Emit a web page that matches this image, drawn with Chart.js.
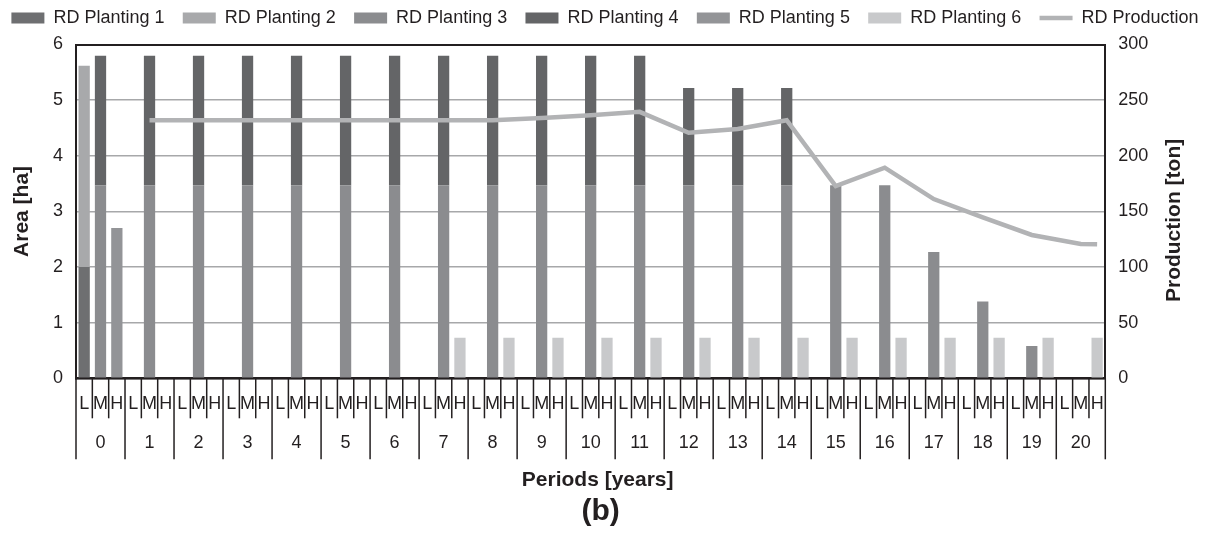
<!DOCTYPE html>
<html>
<head>
<meta charset="utf-8">
<title>RD Planting and Production</title>
<script src="https://cdn.jsdelivr.net/npm/chart.js@4.4.1/dist/chart.umd.min.js"></script>
<style>
  html, body { margin: 0; padding: 0; background: #ffffff; }
  #wrap { width: 1210px; height: 536px; }
</style>
</head>
<body>
<div id="wrap"><canvas id="chart" width="1210" height="536"></canvas></div>
<script>
// Periods and the three levels shown under each period
const periods = ['0','1','2','3','4','5','6','7','8','9','10','11','12','13','14','15','16','17','18','19','20'];
const levels = ['L', 'M', 'H'];

// Area [ha] per period, for the level slot each planting occupies
const planting1L = [2.0, null, null, null, null, null, null, null, null, null, null, null, null, null, null, null, null, null, null, null, null];
const planting2L = [3.62, null, null, null, null, null, null, null, null, null, null, null, null, null, null, null, null, null, null, null, null];
const planting3M = [3.47, 3.47, 3.47, 3.47, 3.47, 3.47, 3.47, 3.47, 3.47, 3.47, 3.47, 3.47, 3.47, 3.47, 3.47, 3.47, 3.47, 2.27, 1.38, 0.58, null];
const planting4M = [2.33, 2.33, 2.33, 2.33, 2.33, 2.33, 2.33, 2.33, 2.33, 2.33, 2.33, 2.33, 1.75, 1.75, 1.75, null, null, null, null, null, null];
const planting5H = [2.7, null, null, null, null, null, null, null, null, null, null, null, null, null, null, null, null, null, null, null, null];
const planting6H = [null, null, null, null, null, null, null, 0.73, 0.73, 0.73, 0.73, 0.73, 0.73, 0.73, 0.73, 0.73, 0.73, 0.73, 0.73, 0.73, 0.73];

// Production [ton]
const productionM = [null, 232, 232, 232, 232, 232, 232, 232, 232, 234, 236.5, 239.5, 220.7, 224, 232, 172.8, 189.3, 161.1, 144.7, 128.8, 120.7];
const productionH = [null, null, null, null, null, null, null, null, null, null, null, null, null, null, null, null, null, null, null, null, 120.4];

// Axis tick values
const areaTicks = [0, 1, 2, 3, 4, 5, 6];
const productionTicks = [0, 50, 100, 150, 200, 250, 300];

// One category per (period, level) pair
const categoryLabels = [];
periods.forEach(() => levels.forEach(l => categoryLabels.push(l)));

// Spread a per-period series into its level slot
function slot(values, level) {
  const out = new Array(categoryLabels.length).fill(null);
  const k = levels.indexOf(level);
  values.forEach((v, p) => { out[p * 3 + k] = v; });
  return out;
}
function merge(a, b) { return a.map((v, i) => v !== null ? v : b[i]); }

const FONT = '"Liberation Sans", Arial, Helvetica, sans-serif';
const INK = '#231f20';
Chart.defaults.font.family = FONT;
Chart.defaults.color = INK;

// Side margins are negative so the long legend row keeps to one line;
// the axis widths below add them back.
const SIDE = 20;

function barSet(label, data, color) {
  return { type: 'bar', label, data, backgroundColor: color, borderWidth: 0,
           yAxisID: 'y', stack: 'area', order: 1,
           categoryPercentage: 1.0, barPercentage: 0.69 };
}

const datasets = [
  barSet('RD Planting 1', slot(planting1L, 'L'), '#6e6f71'),
  barSet('RD Planting 2', slot(planting2L, 'L'), '#a8a9ab'),
  barSet('RD Planting 3', slot(planting3M, 'M'), '#8b8c8f'),
  barSet('RD Planting 4', slot(planting4M, 'M'), '#646567'),
  barSet('RD Planting 5', slot(planting5H, 'H'), '#939497'),
  barSet('RD Planting 6', slot(planting6H, 'H'), '#c8c9cb'),
  { type: 'line', label: 'RD Production', data: merge(slot(productionM, 'M'), slot(productionH, 'H')),
    borderColor: '#b2b3b5', backgroundColor: '#b2b3b5', borderWidth: 4.5,
    pointRadius: 0, pointHoverRadius: 0, spanGaps: true, tension: 0,
    yAxisID: 'y1', order: 0 }
];

// Multi-level category axis, axis titles and panel label
const decorations = {
  id: 'decorations',
  afterLayout(chart) {
    // lift the legend row a little above the plot
    chart.legend.top -= 7.5;
    chart.legend.bottom -= 7.5;
  },
  afterDraw(chart) {
    const { ctx, chartArea, scales } = chart;
    const x = scales.x;
    const n = categoryLabels.length;
    const half = (x.getPixelForValue(1) - x.getPixelForValue(0)) / 2;
    const base = chartArea.bottom;
    ctx.save();
    ctx.strokeStyle = INK;
    ctx.lineWidth = 1.5;
    for (let i = 0; i <= n; i++) {
      const px = i < n ? x.getPixelForValue(i) - half : x.getPixelForValue(n - 1) + half;
      const len = i % 3 === 0 ? 81 : 40;
      ctx.beginPath();
      ctx.moveTo(px, base);
      ctx.lineTo(px, base + len);
      ctx.stroke();
    }
    ctx.fillStyle = INK;
    ctx.textAlign = 'center';
    ctx.textBaseline = 'middle';
    ctx.font = '18px ' + FONT;
    periods.forEach((p, k) => ctx.fillText(p, x.getPixelForValue(k * 3 + 1), base + 65));

    ctx.font = 'bold 21px ' + FONT;
    ctx.fillText('Periods [years]', (chartArea.left + chartArea.right) / 2 + 7, 480);

    ctx.save();
    ctx.translate(22, (chartArea.top + chartArea.bottom) / 2);
    ctx.rotate(-Math.PI / 2);
    ctx.fillText('Area [ha]', 0, 0);
    ctx.restore();

    ctx.save();
    ctx.translate(1174, (chartArea.top + chartArea.bottom) / 2 + 9);
    ctx.rotate(-Math.PI / 2);
    ctx.fillText('Production [ton]', 0, 0);
    ctx.restore();

    ctx.font = 'bold 30px ' + FONT;
    ctx.fillText('(b)', (chartArea.left + chartArea.right) / 2 + 10, 512);
    ctx.restore();
  }
};

new Chart(document.getElementById('chart'), {
  data: { labels: categoryLabels, datasets },
  plugins: [decorations],
  options: {
    responsive: false,
    animation: false,
    layout: { padding: { top: -1.8, left: -SIDE, right: -SIDE, bottom: 0 } },
    plugins: {
      tooltip: { enabled: false },
      legend: {
        position: 'top',
        align: 'center',
        labels: {
          usePointStyle: true,
          pointStyleWidth: 33,
          boxHeight: 11,
          padding: 18.3,
          color: INK,
          font: { size: 18 },
          sort: (a, b) => a.datasetIndex - b.datasetIndex,
          generateLabels(chart) {
            return Chart.defaults.plugins.legend.labels.generateLabels(chart).map(item => {
              item.pointStyle = chart.data.datasets[item.datasetIndex].type === 'line' ? 'line' : 'rect';
              return item;
            });
          }
        }
      }
    },
    scales: {
      x: {
        type: 'category',
        stacked: true,
        offset: true,
        grid: { display: true, drawOnChartArea: false, drawTicks: false },
        border: { display: true, color: INK, width: 2.5 },
        ticks: { autoSkip: false, maxRotation: 0, minRotation: 0, padding: 15, color: INK, font: { size: 18 } },
        afterFit(s) { s.height = 536 - 378.3; }
      },
      y: {
        position: 'left',
        stacked: true,
        min: 0,
        max: 6,
        afterBuildTicks(s) { s.ticks = areaTicks.map(v => ({ value: v })); },
        ticks: { padding: 13, color: INK, font: { size: 18 } },
        grid: {
          drawTicks: false,
          color: c => c.tick.value === 6 ? INK : '#a7a8aa',
          lineWidth: c => c.tick.value === 6 ? 2 : 1.5
        },
        border: { display: true, color: INK, width: 2 },
        afterFit(s) { s.width = 76 + SIDE; }
      },
      y1: {
        position: 'right',
        min: 0,
        max: 300,
        afterBuildTicks(s) { s.ticks = productionTicks.map(v => ({ value: v })); },
        ticks: { padding: 13, color: INK, font: { size: 18 } },
        grid: { drawOnChartArea: false, drawTicks: false },
        border: { display: true, color: INK, width: 2 },
        afterFit(s) { s.width = 1210 - 1105.3 + SIDE; }
      }
    }
  }
});
</script>
</body>
</html>
